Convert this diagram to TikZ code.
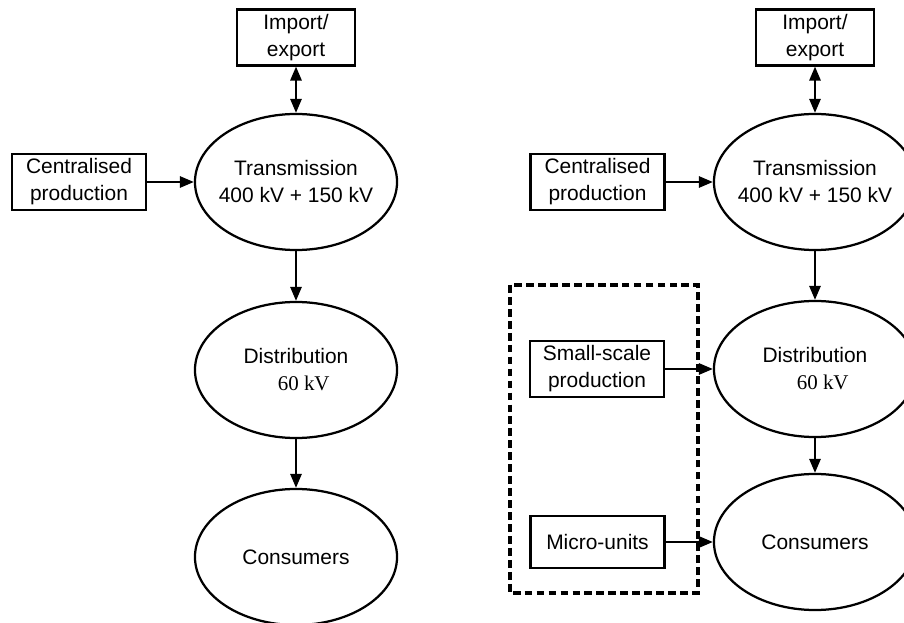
\documentclass[tikz,border=0pt]{standalone}
\usepackage{fontspec}
\setmainfont{Liberation Sans}
\newfontfamily\kvfont{Liberation Serif}
\usepackage{tikz}
\usetikzlibrary{arrows.meta,shapes.geometric}
\tikzstyle{busbox} = [rectangle, draw=black, line width=1.6pt, minimum width=3.35cm, minimum height=1.3cm, align=center, font=\fontsize{14.9}{19.2}\selectfont]
\tikzstyle{netell} = [ellipse, draw=black, line width=1.6pt, minimum width=5.05cm, minimum height=3.4cm, inner xsep=-6pt, inner ysep=0pt, align=center, font=\fontsize{14.9}{19.2}\selectfont]
\tikzstyle{flowarr} = [-{Triangle[length=10pt,width=8pt]}, line width=1.6pt]
\tikzstyle{bothArr} = [{Triangle[length=10pt,width=8pt]}-{Triangle[length=10pt,width=8pt]}, line width=1.6pt]
\tikzstyle{groupbox} = [draw=black, line width=2.3pt, dash pattern=on 5.5pt off 3pt]

\begin{document}
\begin{tikzpicture}[x=0.025cm,y=-0.025cm]
  \useasboundingbox (0,0) rectangle (904,623);

  % left: today
  \node[busbox, minimum width=2.95cm] (impL) at (296,37.5) {Import/\\export};
  \node[busbox] (centL) at (79,182) {Centralised\\production};
  \node[netell] (transL) at (296,182) {Transmission\\400 kV + 150 kV};
  \node[netell] (distL) at (296,370) {Distribution\\\hspace*{11pt}{\kvfont 60 kV}};
  \node[netell] (consL) at (296,557) {Consumers};

  % right: with local production
  \node[busbox, minimum width=2.95cm] (impR) at (815,37.5) {Import/\\export};
  \node[busbox] (centR) at (597.5,182) {Centralised\\production};
  \node[netell] (transR) at (815,182) {Transmission\\400 kV + 150 kV};
  \node[netell] (distR) at (815,369) {Distribution\\\hspace*{11pt}{\kvfont 60 kV}};
  \node[netell] (consR) at (815,542) {Consumers};
  \node[busbox, minimum height=1.325cm] (smallR) at (597,369) {Small-scale\\production};
  \node[busbox] (microR) at (597.5,542) {Micro-units};

  \draw[groupbox] (510,285) rectangle (698,593);

  \foreach \c in {L,R}
  {
    \draw[bothArr] (imp\c) -- (trans\c);
    \draw[flowarr] (cent\c) -- (trans\c);
    \draw[flowarr] (trans\c) -- (dist\c);
    \draw[flowarr] (dist\c) -- (cons\c);
  }
  \draw[flowarr] (smallR) -- (distR);
  \draw[flowarr] (microR) -- (consR);
\end{tikzpicture}
\end{document}
